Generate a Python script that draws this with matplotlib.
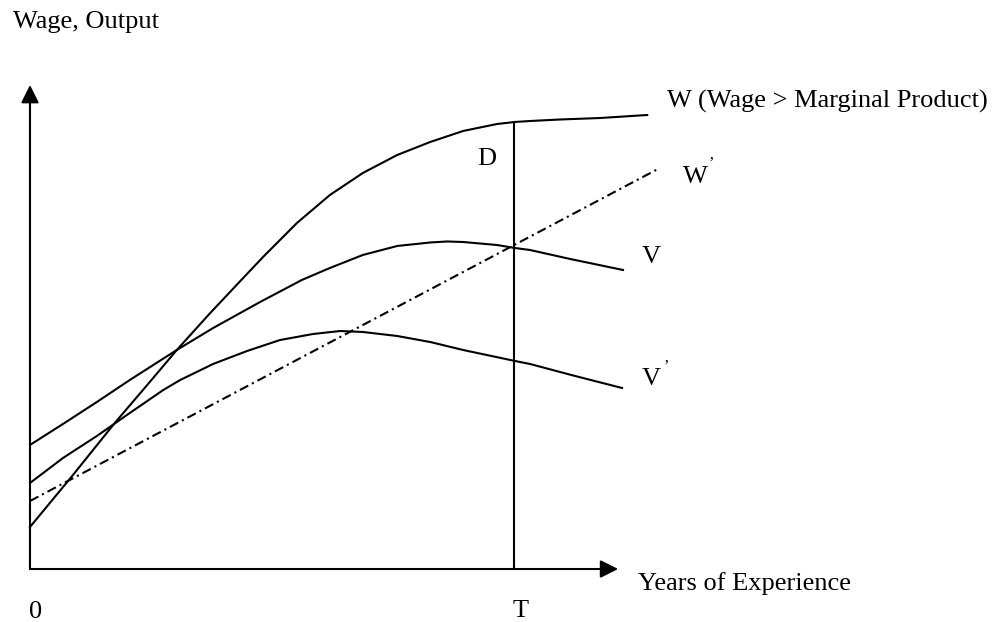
import matplotlib
matplotlib.use('Agg')
import matplotlib.pyplot as plt

# curves (x: years, T = 10; y: wage/output index, axis top = 100)
w_x = [0, 0.87, 1.75, 2.42, 3.03, 3.72, 4.40, 4.81, 5.51, 6.19, 6.87, 7.58, 8.26, 8.94, 9.64,
       10.01, 10.32, 10.94, 11.77, 12.74]
w_y = [8.68, 19.21, 30.17, 38.02, 45.25, 52.89, 60.12, 64.46, 71.49, 77.27, 81.82, 85.54, 88.22,
       90.50, 91.94, 92.36, 92.56, 92.87, 93.18, 93.80]

v_x = [0, 0.68, 1.38, 2.06, 3.03, 3.78, 4.75, 5.61, 6.19, 6.87, 7.58, 8.26, 8.61, 8.94, 9.64,
       10.01, 10.32, 11.15, 12.24]
v_y = [25.62, 29.96, 34.50, 39.05, 45.25, 49.79, 55.17, 59.71, 62.19, 64.88, 66.74, 67.46, 67.67,
       67.56, 66.94, 66.32, 65.91, 64.05, 61.78]

v2_x = [0, 0.68, 1.38, 2.06, 2.75, 3.10, 3.78, 4.48, 5.16, 5.84, 6.40, 6.87, 7.58, 8.26, 8.94,
        10.01, 10.32, 11.25, 12.22]
v2_y = [17.77, 22.93, 27.48, 32.23, 36.98, 39.05, 42.36, 45.04, 47.31, 48.55, 49.17, 48.97, 48.14,
        46.90, 45.25, 42.98, 42.36, 39.88, 37.40]

w2_x = [0, 13.0]
w2_y = [14.05, 82.85]

T = 10
w_at_T = 92.36

plt.rcParams['font.family'] = ['Liberation Serif', 'DejaVu Serif']
FS = 19

def main():
    fig = plt.figure(figsize=(9.98, 6.22), dpi=100)
    ax = fig.add_axes([0, 0, 1, 1])
    ax.set_xlim(-0.619, 19.98)
    ax.set_ylim(-10.95, 117.56)
    ax.axis('off')

    lw = 1.5
    ax.plot(w_x, w_y, color='black', lw=lw)
    ax.plot(v_x, v_y, color='black', lw=lw)
    ax.plot(v2_x, v2_y, color='black', lw=lw)
    ax.plot(w2_x, w2_y, color='black', lw=lw, linestyle=(0, (4.5, 2.0, 1.0, 2.0)))
    ax.plot([T, T], [0, w_at_T], color='black', lw=lw)

    arrow = dict(arrowstyle='-|>,head_length=0.6,head_width=0.3', mutation_scale=18,
                 lw=lw, color='black', shrinkA=0, shrinkB=0)
    ax.annotate('', xy=(0, 100), xytext=(0, 0), arrowprops=arrow)
    ax.annotate('', xy=(12.14, 0), xytext=(0, 0), arrowprops=arrow)

    ax.text(-0.35, 113.0, 'Wage, Output', fontsize=FS, va='center', ha='left')
    ax.text(13.15, 96.7, 'W (Wage > Marginal Product)', fontsize=FS, va='center', ha='left')
    ax.text(13.48, 80.9, 'W', fontsize=FS, va='center', ha='left')
    ax.text(14.01, 83.7, '\u2019', fontsize=12, va='center', ha='left')
    ax.text(12.63, 64.4, 'V', fontsize=FS, va='center', ha='left')
    ax.text(12.63, 39.2, 'V', fontsize=FS, va='center', ha='left')
    ax.text(13.07, 41.9, '\u2019', fontsize=12, va='center', ha='left')
    ax.text(9.43, 84.8, 'D', fontsize=FS, va='center', ha='center')
    ax.text(12.55, -3.1, 'Years of Experience', fontsize=FS, va='center', ha='left')
    ax.text(10.12, -8.7, 'T', fontsize=FS, va='center', ha='center')
    ax.text(0.12, -8.9, '0', fontsize=FS, va='center', ha='center')

    fig.savefig('out.png', dpi=100)

if __name__ == '__main__':
    main()
